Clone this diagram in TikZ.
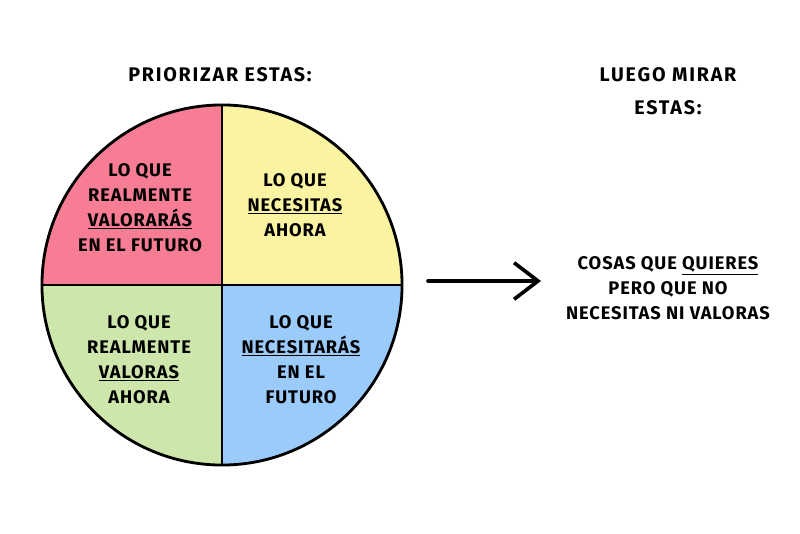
\documentclass[tikz,border=0pt]{standalone}
\usepackage{fontspec}
\setmainfont{Fira Sans}
\newfontfamily\handfont{Fira Sans}[LetterSpace=5]
\newfontfamily\titlefont{Fira Sans}[LetterSpace=9]
\usetikzlibrary{arrows.meta}

\definecolor{quadpink}{HTML}{F77D94}
\definecolor{quadyellow}{HTML}{FAF4A2}
\definecolor{quadgreen}{HTML}{CDE6AB}
\definecolor{quadblue}{HTML}{9BCBFA}

\tikzset{
  hand/.style={font=\handfont\bfseries\fontsize{13}{17.7}\selectfont, align=center, text=black, inner sep=0pt},
  title/.style={font=\titlefont\bfseries\fontsize{14}{23.4}\selectfont, align=center, text=black, inner sep=0pt},
  ink/.style={line width=2pt, black}
}

\begin{document}
\begin{tikzpicture}[x=0.025cm,y=0.025cm]
  \useasboundingbox[fill=white] (0,0) rectangle (800,533);

  % Quadrants
  \coordinate (c) at (222,248);
  \fill[quadpink]   (c) -- ++(180:180) arc (180:90:180) -- cycle;
  \fill[quadyellow] (c) -- ++(90:180) arc (90:0:180) -- cycle;
  \fill[quadgreen]  (c) -- ++(180:180) arc (180:270:180) -- cycle;
  \fill[quadblue]   (c) -- ++(270:180) arc (270:360:180) -- cycle;

  \node[ink, draw, circle, minimum size=9cm, inner sep=0pt] (wheel) at (c) {};
  \draw[ink] (wheel.north) -- (wheel.south);
  \draw[ink] (wheel.west) -- (wheel.east);

  % Titles
  \node[title] (prio) at (220,458) {PRIORIZAR ESTAS:};
  \node[title] (luego) at (668,442) {LUEGO MIRAR\\ESTAS:};

  % Quadrant texts
  \node[hand] (valfut) at (140,325.5) {LO QUE\\REALMENTE\\\underline{VALORARÁS}\\EN EL FUTURO};
  \node[hand] (necnow) at (295,328) {LO QUE\\\underline{NECESITAS}\\AHORA};
  \node[hand] (valnow) at (139,173.5) {LO QUE\\REALMENTE\\\underline{VALORAS}\\AHORA};
  \node[hand] (necfut) at (301,173.5) {LO QUE\\\underline{NECESITARÁS}\\EN EL\\FUTURO};

  % Arrow and the rest
  \coordinate (tail) at (428,252);
  \coordinate (tip) at (541,252);
  \draw[line width=2.6pt, line cap=round, -{Straight Barb[length=17pt,width=26pt,line width=2.6pt]}] (tail) -- (tip);

  \node[hand] (quieres) at (668,245) {COSAS QUE \underline{QUIERES}\\PERO QUE NO\\NECESITAS NI VALORAS};
\end{tikzpicture}
\end{document}
